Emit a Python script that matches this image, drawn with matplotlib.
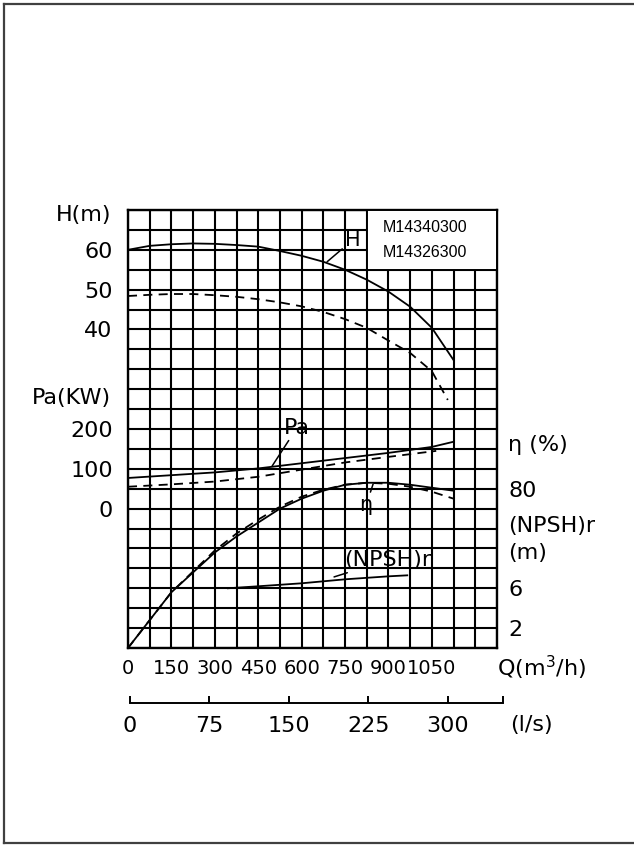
import numpy as np
import matplotlib
matplotlib.use("Agg")
import matplotlib.pyplot as plt
from matplotlib.patches import Rectangle
from matplotlib.lines import Line2D

# ---- data ----------------------------------------------------------------
Q_H1 = [0, 75, 150, 225, 300, 375, 450, 525, 600, 675, 750, 825, 900, 975, 1050, 1125]
H_1  = [60.0, 61.0, 61.4, 61.6, 61.5, 61.2, 60.8, 59.7, 58.5, 57.0, 55.0, 52.5, 49.5, 45.7, 40.4, 32.3]
Q_H2 = [0, 75, 150, 225, 300, 375, 450, 525, 600, 675, 750, 825, 900, 975, 1050, 1105]
H_2  = [48.4, 48.7, 48.9, 48.9, 48.6, 48.2, 47.6, 46.8, 45.8, 44.4, 42.6, 40.4, 37.2, 34.1, 29.5, 22.3]

Q_Pa1 = [0, 150, 300, 450, 600, 750, 900, 1050, 1125]
Pa_1  = [77, 84, 91, 101, 114, 127, 140, 155, 168]
Q_Pa2 = [0, 150, 300, 450, 600, 750, 900, 1065]
Pa_2  = [55, 61, 68, 80, 98, 116, 130, 145]

Q_eta = [0, 75, 150, 225, 300, 375, 450, 525, 600, 675, 750, 825, 900, 975, 1050, 1125]
eta_1 = [0, 14, 28, 38, 48, 56, 63, 70, 75, 79, 82, 83, 83, 82, 80.5, 79]
eta_2 = [0, 14, 28, 38.5, 49, 57.5, 64.5, 71, 76, 79.5, 82, 83, 82.5, 81, 78.5, 75]

Q_N  = [345, 450, 600, 750, 900, 965]
NPSH = [6.0, 6.2, 6.5, 6.9, 7.2, 7.3]

Q_ticks   = [0, 150, 300, 450, 600, 750, 900, 1050]
ls_ticks  = [0, 75, 150, 225, 300]
models    = ["M14340300", "M14326300"]

FS = 16
W, Hpx = 634, 846
plt.rcParams["font.family"] = "DejaVu Sans"
fig = plt.figure(figsize=(W / 100, Hpx / 100), dpi=100)

# outer scan frame (left, top, bottom)
for xs, ys in [([4, 4], [4, 843]), ([4, 634], [4, 4]), ([4, 634], [843, 843])]:
    fig.add_artist(Line2D([x / W for x in xs], [1 - y / Hpx for y in ys],
                          color="0.25", lw=1.6))

# main grid axes, H scale on the left
ax = fig.add_axes([128 / W, 1 - 648 / Hpx, 369 / W, 438 / Hpx])
ax.set_xlim(0, 1275)
ax.set_ylim(-40, 70)
ax.set_xticks(Q_ticks, [str(q) for q in Q_ticks])
ax.set_xticks(np.arange(0, 1276, 75), minor=True)
ax.set_yticks([40, 50, 60])
ax.set_yticks(np.arange(-40, 71, 5), minor=True)
ax.grid(which="both", color="black", lw=1.5)
ax.tick_params(which="both", length=0)
ax.tick_params(axis="x", labelsize=14, pad=8)
ax.tick_params(axis="y", labelsize=FS, pad=11)
for s in ax.spines.values():
    s.set_linewidth(1.7)

ax.plot(Q_H1, H_1, color="black", lw=1.3, zorder=4)
ax.plot(Q_H2, H_2, color="black", lw=1.3, ls=(0, (5, 3.5)), zorder=4)

# legend box in the top-right cells
ax.add_patch(Rectangle((825, 55), 450, 15, facecolor="white", edgecolor="black",
                       lw=1.4, zorder=5))
for yy, m in zip([0.961, 0.904], models):
    ax.text(0.691, yy, m, transform=ax.transAxes, fontsize=11.5,
            family="Liberation Sans", va="center", ha="left", zorder=6)

ax.annotate("H", xy=(688, 57.0), xytext=(750, 60.0), fontsize=15, zorder=6,
            ha="left", va="bottom",
            arrowprops=dict(arrowstyle="-", color="black", lw=1.1,
                            shrinkA=0, shrinkB=0))
ax.text(-0.045, 0.988, "H(m)", transform=ax.transAxes, fontsize=FS,
        ha="right", va="center")
ax.text(-0.045, 0.571, "Pa(KW)", transform=ax.transAxes, fontsize=FS,
        ha="right", va="center")

# power scale (left)
axPa = ax.twinx()
axPa.set_ylim(-350, 750)
axPa.yaxis.tick_left()
axPa.set_yticks([0, 100, 200])
axPa.tick_params(length=0, labelsize=FS, pad=11)
for s in axPa.spines.values():
    s.set_visible(False)
axPa.plot(Q_Pa1, Pa_1, color="black", lw=1.3)
axPa.plot(Q_Pa2, Pa_2, color="black", lw=1.3, ls=(0, (5, 3.5)))
axPa.annotate("Pa", xy=(498, 107), xytext=(539, 178), fontsize=FS,
              ha="left", va="bottom",
              arrowprops=dict(arrowstyle="-", color="black", lw=1.1,
                              shrinkA=0, shrinkB=0))

# efficiency scale (right)
axE = ax.twinx()
axE.set_ylim(0, 220)
axE.set_yticks([80])
axE.tick_params(length=0, labelsize=FS, pad=8)
for s in axE.spines.values():
    s.set_visible(False)
axE.plot(Q_eta, eta_1, color="black", lw=1.3)
axE.plot(Q_eta, eta_2, color="black", lw=1.3, ls=(0, (5, 3.5)))
axE.annotate("η", xy=(847, 82.4), xytext=(823, 76.9), fontsize=15,
             ha="center", va="top",
             arrowprops=dict(arrowstyle="-", color="black", lw=1.1,
                             shrinkA=0, shrinkB=0))

# NPSH scale (right)
axN = ax.twinx()
axN.set_ylim(0, 44)
axN.set_yticks([2, 6])
axN.tick_params(length=0, labelsize=FS, pad=8)
for s in axN.spines.values():
    s.set_visible(False)
axN.plot(Q_N, NPSH, color="black", lw=1.3)
axN.annotate("(NPSH)r", xy=(712, 7.14), xytext=(747, 7.84), fontsize=FS,
             ha="left", va="bottom",
             arrowprops=dict(arrowstyle="-", color="black", lw=1.1,
                             shrinkA=0, shrinkB=0))

ax.text(1.03, 0.4635, "η (%)", transform=ax.transAxes, fontsize=FS,
        ha="left", va="center")
ax.text(1.03, 0.278, "(NPSH)r", transform=ax.transAxes, fontsize=FS,
        ha="left", va="center")
ax.text(1.03, 0.218, "(m)", transform=ax.transAxes, fontsize=FS,
        ha="left", va="center")
ax.text(1.0, -0.0457, r"Q(m$^3$/h)", transform=ax.transAxes, fontsize=FS,
        ha="left", va="center")

# second flow scale in l/s
axL = fig.add_axes([130 / W, 1 - 703 / Hpx, 373 / W, 0.0001])
axL.set_xlim(0, 352)
axL.set_xticks(ls_ticks + [352], [str(v) for v in ls_ticks] + [""])
axL.set_yticks([])
for k in ["top", "left", "right"]:
    axL.spines[k].set_visible(False)
axL.spines["bottom"].set_linewidth(1.4)
axL.tick_params(direction="in", length=5, width=1.4, pad=9, labelsize=FS)
fig.text(510 / W, 1 - 725 / Hpx, "(l/s)", fontsize=FS, ha="left", va="center")

fig.savefig("out.png", dpi=100, facecolor="white")
